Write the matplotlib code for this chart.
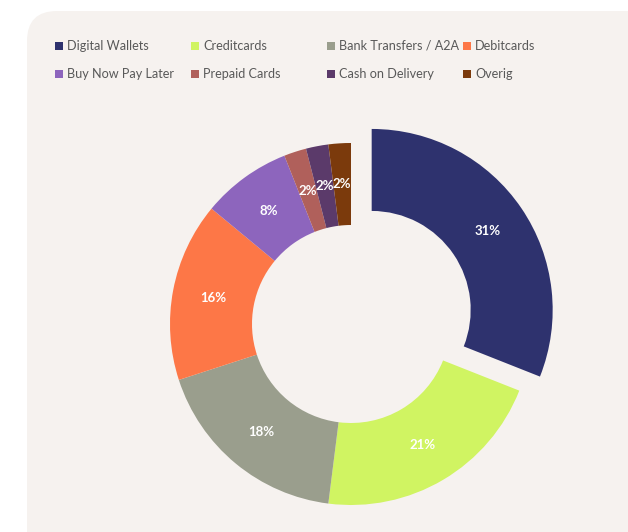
import matplotlib.pyplot as plt
from matplotlib.patches import FancyBboxPatch, Rectangle

categories = ["Digital Wallets", "Creditcards", "Bank Transfers / A2A", "Debitcards",
              "Buy Now Pay Later", "Prepaid Cards", "Cash on Delivery", "Overig"]
shares = [31, 21, 18, 16, 8, 2, 2, 2]
colors = ["#2e326e", "#d0f462", "#9a9e8d", "#fd7747",
          "#8d65bd", "#b0605b", "#5b3a6a", "#7b3a0c"]
explode = [25, 0, 0, 0, 0, 0, 0, 0]

W, H = 628, 532
fig = plt.figure(figsize=(W / 100, H / 100), dpi=100)
fig.patch.set_facecolor("white")
ax = fig.add_axes([0, 0, 1, 1])

# card background
bg = FancyBboxPatch((27, -60), 700, H - 11 + 60, boxstyle="round,pad=0,rounding_size=30",
                    facecolor="#f6f2ef", edgecolor="none", zorder=0)
ax.add_patch(bg)

wedges, texts, autotexts = ax.pie(
    shares, colors=colors, explode=explode, startangle=90, counterclock=False,
    center=(351, H - 324), radius=181, autopct="%d%%", pctdistance=0.775,
    wedgeprops=dict(width=82, linewidth=0), frame=True,
    textprops=dict(color="white", fontsize=9.5, fontweight="bold", family="Lato"))
ax.set_xlim(0, W)
ax.set_ylim(0, H)
ax.set_aspect("equal")
ax.axis("off")

# legend, 4 columns x 2 rows
for i, (name, c) in enumerate(zip(categories, colors)):
    x = 59 + 136 * (i % 4)
    y = H - (46 + 27.5 * (i // 4))
    ax.add_patch(Rectangle((x - 4, y - 4), 8, 8, facecolor=c, edgecolor="none", zorder=3))
    ax.text(x + 8, y, name, fontsize=9.1, color="#595959", va="center", ha="left",
            family="Lato", zorder=3)

fig.savefig("out.png", dpi=100)
